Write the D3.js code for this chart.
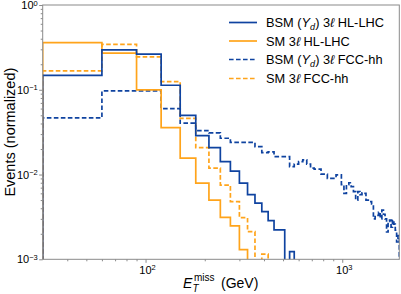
<!DOCTYPE html>
<html>
<head>
<meta charset="utf-8">
<script src="https://cdn.jsdelivr.net/npm/d3@7"></script>
<style>
  body { margin: 0; background: #fff; }
  svg { display: block; font-family: "Liberation Sans", Arial, Helvetica, sans-serif; }
</style>
</head>
<body>
<svg id="container" width="401" height="294"></svg>
<script>
// histogram bins: 30 GeV wide, first edge at 30 GeV
const binWidth = 30;
const binEdges = d3.range(30, 1951, binWidth);

// normalized event counts per bin, starting at 30 GeV (missing bins = empty)
const bsmHL = [0.148, 0.295, 0.264, 0.113, 0.050, 0.0288, 0.0208, 0.0142, 0.011, 0.0079,
    0.0058, 0.0046, 0.00366, 0.00286, 0.00222, 0.00222, 0, 0.00123];
const smHL = [0.36, 0.27, 0.0995, 0.0357, 0.0156, 0.0079, 0.0050, 0.00313, 0.00248, 0.0013];
const bsmFCC = [0.0465, 0.097, 0.097, 0.060, 0.0403, 0.033, 0.031, 0.0268, 0.024, 0.024,
    0.024, 0.0213, 0.0181, 0.0185, 0.0163, 0.0163, 0.0163, 0.0124, 0.0133, 0.0142,
    0.0149, 0.0133, 0.0119, 0.0116, 0.0116, 0.0101, 0.0101, 0.0090, 0.0090, 0.0090,
    0.0099, 0.0099, 0.0076, 0.0060, 0.0076, 0.0080, 0.0072, 0.0063, 0.0050, 0.0063,
    0.0058, 0.0061, 0.0060, 0.0050, 0.0050, 0.0048, 0.0045, 0.0030, 0.0032, 0.0033,
    0.0036, 0.0030, 0.0038, 0.0034, 0.0030, 0.0021, 0.0028, 0.0029, 0.0024, 0.0029,
    0.0026, 0.0022, 0.0016, 0.0019];
const smFCC = [0.167, 0.344, 0.245, 0.125, 0.046, 0.0208, 0.0119, 0.0075, 0.0048, 0.0031,
    0.00212, 0, 0.00115];

const yTickValues = [1e-3, 1e-2, 1e-1, 1];
const yTickExp = ["\u22123", "\u22122", "\u22121", "0"];
const xTickValues = [100, 1000];
const xTickExp = ["2", "3"];

const blue = "#0f43a0";
const orange = "#ffa41b";

const margin = {
    top: 5,
    bottom: 34.7,
    left: 42.7,
    right: 1.7
};
const svgWidth = 401, svgHeight = 294;

let xScale = d3.scaleLog()
    .domain([30, 1950])
    .range([margin.left, svgWidth - margin.right]);
let yScale = d3.scaleLog()
    .domain([1e-3, 1])
    .range([svgHeight - margin.bottom, margin.top]);

let svg = d3.select("#container");

svg.append("clipPath").attr("id", "plotclip")
    .append("rect")
    .attr("x", margin.left)
    .attr("y", margin.top)
    .attr("width", svgWidth - margin.left - margin.right)
    .attr("height", svgHeight - margin.top - margin.bottom);

// step path for a histogram (empty bins drop below the axis and are clipped)
function stepPoints(values) {
    let floor = 1e-5;
    let pts = [[binEdges[0], floor]];
    for (let i = 0; i < binEdges.length - 1; i++) {
        let v = values[i] || floor;
        pts.push([binEdges[i], v]);
        pts.push([binEdges[i + 1], v]);
    }
    pts.push([binEdges[binEdges.length - 1], floor]);
    return pts;
}

let line = d3.line()
    .x(d => xScale(d[0]))
    .y(d => yScale(d[1]));

const series = [
    { name: "bsmFCC", values: bsmFCC, color: blue, dash: "4.6,2.4" },
    { name: "smFCC", values: smFCC, color: orange, dash: "4.6,2.4" },
    { name: "smHL", values: smHL, color: orange, dash: null },
    { name: "bsmHL", values: bsmHL, color: blue, dash: null }
];

let plot = svg.append("g").attr("clip-path", "url(#plotclip)");
plot.selectAll("path")
    .data(series).enter()
    .append("path")
    .attr("d", d => line(stepPoints(d.values)))
    .attr("fill", "none")
    .attr("stroke", d => d.color)
    .attr("stroke-width", 1.7)
    .attr("stroke-dasharray", d => d.dash)
    .attr("stroke-linejoin", "miter");

// frame
const spine = "#8a8a8a";
svg.append("rect")
    .attr("x", margin.left)
    .attr("y", margin.top)
    .attr("width", svgWidth - margin.left - margin.right)
    .attr("height", svgHeight - margin.top - margin.bottom)
    .attr("fill", "none")
    .attr("stroke", spine)
    .attr("stroke-width", 1);

// minor ticks
let yMinor = [];
[1e-3, 1e-2, 1e-1].forEach(b => d3.range(2, 10).forEach(k => yMinor.push(b * k)));
let xMinor = [40, 50, 60, 70, 80, 90, 200, 300, 400, 500, 600, 700, 800, 900];

let yAxis = d3.axisLeft(yScale)
    .tickValues(yTickValues)
    .tickSize(3.5)
    .tickFormat("");
let yAxisMinor = d3.axisLeft(yScale)
    .tickValues(yMinor)
    .tickSize(2)
    .tickFormat("");
let xAxis = d3.axisBottom(xScale)
    .tickValues(xTickValues)
    .tickSize(3.5)
    .tickFormat("");
let xAxisMinor = d3.axisBottom(xScale)
    .tickValues(xMinor)
    .tickSize(2)
    .tickFormat("");

[[yAxis, "y"], [yAxisMinor, "y"], [xAxis, "x"], [xAxisMinor, "x"]].forEach(([ax, dir]) => {
    let g = svg.append("g")
        .attr("transform", dir === "y" ? `translate(${margin.left},0)` : `translate(0,${svgHeight - margin.bottom})`)
        .call(ax);
    g.select(".domain").remove();
    g.selectAll("line").attr("stroke", spine);
});

// tick labels with superscripts
let yLabels = svg.append("g").selectAll("text")
    .data(yTickValues).enter()
    .append("text")
    .attr("x", margin.left - 5)
    .attr("y", d => yScale(d) + 4)
    .attr("text-anchor", "end")
    .style("font-size", "11px");
yLabels.append("tspan").text("10");
yLabels.append("tspan")
    .attr("dy", -3.5)
    .style("font-size", "7.5px")
    .text((d, i) => yTickExp[i]);

let xLabels = svg.append("g").selectAll("text")
    .data(xTickValues).enter()
    .append("text")
    .attr("x", d => xScale(d) + 2)
    .attr("y", svgHeight - margin.bottom + 15)
    .attr("text-anchor", "middle")
    .style("font-size", "11px");
xLabels.append("tspan").text("10");
xLabels.append("tspan")
    .attr("dy", -4.5)
    .style("font-size", "7.5px")
    .text((d, i) => xTickExp[i]);

// axis titles
svg.append("text")
    .attr("transform", `translate(15,${(margin.top + svgHeight - margin.bottom) / 2}) rotate(-90)`)
    .attr("text-anchor", "middle")
    .style("font-size", "14.5px")
    .text("Events (normalized)");

let xTitle = svg.append("g").style("font-size", "14px");
xTitle.append("text").attr("x", 183).attr("y", 287.5)
    .style("font-style", "italic").text("E");
xTitle.append("text").attr("x", 194).attr("y", 281)
    .style("font-size", "10px").text("miss");
xTitle.append("text").attr("x", 192.5).attr("y", 292)
    .style("font-size", "10px").style("font-style", "italic").text("T");
xTitle.append("text").attr("x", 221).attr("y", 287.5).text("(GeV)");

// legend
const legendItems = [
    { color: blue, dash: null, text: ["BSM (", "Y", "d", ") 3", "\u2113", " HL-LHC"] },
    { color: orange, dash: null, text: ["SM 3", "\u2113", " HL-LHC"] },
    { color: blue, dash: "4.6,2.4", text: ["BSM (", "Y", "d", ") 3", "\u2113", " FCC-hh"] },
    { color: orange, dash: "4.6,2.4", text: ["SM 3", "\u2113", " FCC-hh"] }
];
const legendRows = [22.5, 41, 59.5, 78.5];

let legend = svg.append("g").attr("class", "legend");
legendItems.forEach((item, i) => {
    let y = legendRows[i];
    legend.append("line")
        .attr("x1", 229).attr("x2", 257)
        .attr("y1", y).attr("y2", y)
        .attr("stroke", item.color)
        .attr("stroke-width", 1.7)
        .attr("stroke-dasharray", item.dash);
    let t = legend.append("text")
        .attr("x", 266)
        .attr("y", y + 4.5)
        .style("font-size", "12.8px");
    item.text.forEach(s => {
        let ts = t.append("tspan").text(s);
        if (s === "Y" || s === "\u2113") ts.style("font-style", "italic");
        if (s === "d") ts.attr("dy", 3).style("font-size", "9px").style("font-style", "italic");
        if (s === ") 3") ts.attr("dy", -3);
    });
});
</script>
</body>
</html>
